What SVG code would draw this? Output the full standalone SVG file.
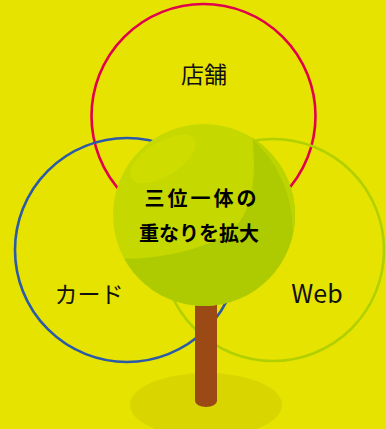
<svg xmlns="http://www.w3.org/2000/svg" width="386" height="429" viewBox="0 0 386 429">
  <defs>
    <style>
      .ring { fill: none; stroke-width: 2.6; }
      .label { font-family: "Noto Sans CJK JP", "Noto Sans", sans-serif; font-size: 23px; fill: #111; text-anchor: middle; }
      .core { font-family: "Noto Sans CJK JP", sans-serif; font-size: 20px; font-weight: bold; fill: #000; text-anchor: middle; }
    </style>
    <clipPath id="canopy-clip">
      <circle cx="204" cy="215" r="91"/>
    </clipPath>
  </defs>

  <!-- background -->
  <rect width="386" height="429" fill="#e6e300"/>

  <!-- ground shadow under the tree -->
  <ellipse cx="206" cy="405" rx="76" ry="32" fill="#d8d500"/>

  <!-- the three overlapping circles -->
  <g id="connectors">
    <circle id="ring-store" class="ring" cx="203.5" cy="116" r="112" stroke="#e0004d"/>
    <circle id="ring-card" class="ring" cx="127" cy="250" r="112" stroke="#2b5aa8"/>
    <circle id="ring-web" class="ring" cx="273" cy="250" r="111" stroke="#b2d000"/>
  </g>

  <!-- tree: trunk then canopy -->
  <g id="tree">
    <path d="M195,290 V401 A11 6 0 0 0 217,401 V290 Z" fill="#9b4a15"/>
    <circle cx="204" cy="215" r="91" fill="#c5d800"/>
    <g clip-path="url(#canopy-clip)">
      <path d="M100,258 C150,262 200,252 230,232 C255,212 258,170 250,120 L320,120 L320,320 L100,320 Z" fill="#adcb00"/>
      <path d="M249.5,136.2 A91 91 0 0 1 292.7,235.5 A125 125 0 0 0 249.5,136.2 Z" fill="#bcd400"/>
    </g>
    <ellipse cx="163" cy="159" rx="37" ry="17" transform="rotate(-32 163 159)" fill="#cfdc00"/>
  </g>

  <g id="node-store">
    <text class="label" x="204" y="83">店舗</text>
  </g>
  <g id="node-card">
    <text class="label" x="89" y="303">カード</text>
  </g>
  <g id="node-web">
    <text class="label" x="317" y="303" style="font-size:25px">Web</text>
  </g>
  <g id="node-center">
    <text class="core" x="202" y="206" letter-spacing="3">三位一体の</text>
    <text class="core" x="199" y="241">重なりを拡大</text>
  </g>
</svg>
